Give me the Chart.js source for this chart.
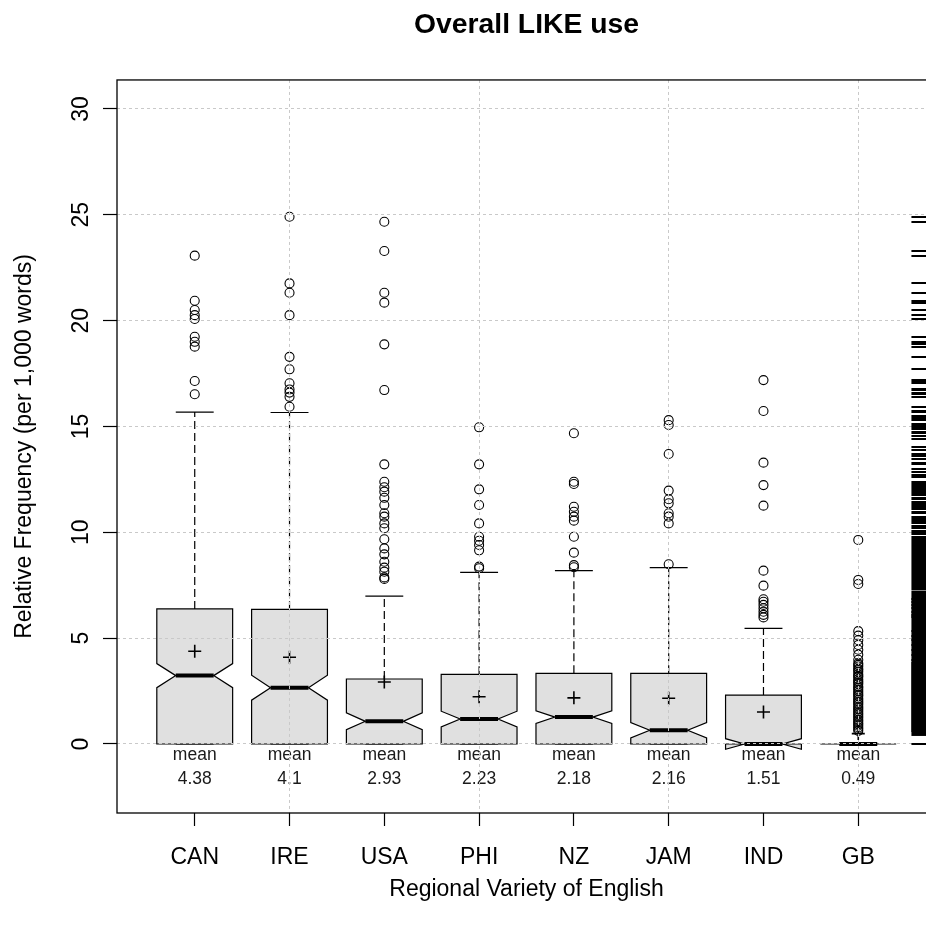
<!DOCTYPE html>
<html><head><meta charset="utf-8">
<script src="https://cdn.jsdelivr.net/npm/chart.js@4.4.1/dist/chart.umd.min.js"></script>
<style>
html,body{margin:0;padding:0;overflow:hidden;background:#fff;width:926px;height:929px}
#wrap{position:absolute;left:0;top:0;width:1053px;height:929px}
canvas{display:block}
</style></head><body>
<div id="wrap"><canvas id="c" width="1053" height="929" style="width:1053px;height:929px"></canvas></div>
<script>
// ---------- data ----------
const categories   = ['CAN', 'IRE', 'USA', 'PHI', 'NZ', 'JAM', 'IND', 'GB'];
const meanValues   = [4.38, 4.1, 2.93, 2.23, 2.18, 2.16, 1.51, 0.49];
const lowerWhisker = [0, 0, 0, 0, 0, 0, 0, 0];
const lowerHinge   = [0, 0, 0, 0, 0, 0, 0, 0];
const medians      = [3.23, 2.66, 1.07, 1.18, 1.27, 0.65, 0, 0];
const upperHinge   = [6.38, 6.36, 3.07, 3.29, 3.34, 3.34, 2.31, 0];
const upperWhisker = [15.68, 15.66, 6.99, 8.11, 8.19, 8.33, 5.46, 0];
const notchLower   = [2.66, 2.07, 0.68, 0.81, 0.97, 0.29, -0.25, 0];
const notchUpper   = [3.80, 3.25, 1.47, 1.55, 1.57, 1.01, 0.25, 0];

const outCAN = [23.07, 20.94, 20.5, 20.26, 20.08, 19.24, 19.0, 18.77, 17.15, 16.52];
const outIRE = [24.91, 21.76, 21.32, 20.26, 18.29, 17.7, 17.04, 16.75, 16.6, 16.4, 15.93];
const outUSA = [24.67, 23.29, 21.32, 20.85, 18.88, 16.72, 13.21, 12.39, 12.13, 11.92, 11.63, 11.29,
                10.9, 10.74, 10.42, 10.19, 9.67, 9.24, 8.96, 8.61, 8.33, 8.14, 7.87, 7.8];
const outPHI = [14.96, 13.21, 12.03, 11.29, 10.42, 9.79, 9.6, 9.4, 9.15, 8.38, 8.3];
const outNZ  = [14.68, 12.39, 12.28, 11.21, 10.97, 10.74, 10.55, 9.79, 9.04, 8.45, 8.35];
const outJAM = [15.3, 15.07, 13.7, 11.97, 11.56, 11.37, 10.9, 10.74, 10.42, 8.49];
const outIND = [17.19, 15.73, 13.29, 12.23, 11.26, 8.19, 7.48, 6.84, 6.72, 6.57, 6.41, 6.25, 6.1, 5.98];
const outGB  = [9.64, 7.75, 7.56, 5.33, 5.12, 4.9, 4.68, 4.45, 4.22, 3.98, 3.81, 3.74, 3.66, 3.55,
                3.49, 3.41, 3.3, 3.22, 3.17, 3.06, 2.98, 2.91, 2.83, 2.72, 2.66, 2.57, 2.49, 2.41,
                2.33, 2.27, 2.16, 2.09, 2.01, 1.94, 1.86, 1.77, 1.7, 1.63, 1.55, 1.46, 1.39, 1.31,
                1.24, 1.15, 1.08, 0.99, 0.93, 0.86, 0.78, 0.71, 0.62];
const outliers = [outCAN, outIRE, outUSA, outPHI, outNZ, outJAM, outIND, outGB];

// rug of all observations on the right-hand side (values not already among the outliers)
const rugExtraValues = [15.68, 15.5, 15.42, 15.35, 15.1, 14.9, 14.72, 14.55, 14.4, 14.05, 13.9,
                        13.6, 13.45, 13.0, 12.85, 12.7, 12.6, 12.2, 11.8, 11.75, 11.45, 11.1,
                        10.95, 10.65, 10.55, 10.3, 10.2, 10.05, 9.95, 9.9, 9.55, 9.45, 9.3, 9.2,
                        9.1, 8.95, 8.85, 8.75, 8.65, 8.55, 8.42, 8.3, 8.2, 8.1, 8.0, 7.95, 7.85,
                        7.7, 7.65, 7.55, 7.45, 7.38, 7.3, 0];
const rugSolidBands = [[0.38, 7.25]];

const yTickValues = [0, 5, 10, 15, 20, 25, 30];

// ---------- chart ----------
const FONT = '"Liberation Sans", Arial, Helvetica, sans-serif';

const boxPlugin = {
  id: 'notchedBoxes',
  beforeDatasetsDraw(chart) {
    const {ctx, scales: {x, y}} = chart;
    const unit = x.getPixelForValue(2) - x.getPixelForValue(1);
    const half = 0.4 * unit, notchHalf = 0.2 * unit, capHalf = 0.2 * unit;
    const Y = v => y.getPixelForValue(v);
    ctx.save();
    ctx.strokeStyle = '#000';
    categories.forEach((c, i) => {
      const cx = x.getPixelForValue(i + 1);
      ctx.lineWidth = 1.2;
      ctx.setLineDash([8, 4]);
      ctx.beginPath();
      ctx.moveTo(cx, Y(upperHinge[i])); ctx.lineTo(cx, Y(upperWhisker[i]));
      ctx.moveTo(cx, Y(lowerHinge[i])); ctx.lineTo(cx, Y(lowerWhisker[i]));
      ctx.stroke();
      ctx.setLineDash([]);
      ctx.beginPath();
      ctx.moveTo(cx - capHalf, Y(upperWhisker[i])); ctx.lineTo(cx + capHalf, Y(upperWhisker[i]));
      ctx.moveTo(cx - capHalf, Y(lowerWhisker[i])); ctx.lineTo(cx + capHalf, Y(lowerWhisker[i]));
      ctx.stroke();
      ctx.beginPath();
      ctx.moveTo(cx - half, Y(lowerHinge[i]));
      ctx.lineTo(cx - half, Y(notchLower[i]));
      ctx.lineTo(cx - notchHalf, Y(medians[i]));
      ctx.lineTo(cx - half, Y(notchUpper[i]));
      ctx.lineTo(cx - half, Y(upperHinge[i]));
      ctx.lineTo(cx + half, Y(upperHinge[i]));
      ctx.lineTo(cx + half, Y(notchUpper[i]));
      ctx.lineTo(cx + notchHalf, Y(medians[i]));
      ctx.lineTo(cx + half, Y(notchLower[i]));
      ctx.lineTo(cx + half, Y(lowerHinge[i]));
      ctx.closePath();
      ctx.fillStyle = '#e0e0e0';
      ctx.fill();
      ctx.lineWidth = 1.2;
      ctx.stroke();
      ctx.lineWidth = 4;
      ctx.beginPath();
      ctx.moveTo(cx - notchHalf, Y(medians[i])); ctx.lineTo(cx + notchHalf, Y(medians[i]));
      ctx.stroke();
      const yl = Y(chart.options.plugins.notchedBoxes.labelAt);
      ctx.fillStyle = '#1a1a1a';
      ctx.font = '17.5px ' + FONT;
      ctx.textAlign = 'center';
      ctx.textBaseline = 'middle';
      ctx.fillText('mean', cx, yl - 12);
      ctx.fillText(String(meanValues[i]), cx, yl + 12);
    });
    ctx.restore();
  },
  afterDraw(chart) {
    const {ctx, chartArea: a, scales: {y}} = chart;
    ctx.save();
    const len = 0.03 * (a.right - a.left);
    ctx.strokeStyle = '#000';
    ctx.lineWidth = 2;
    ctx.beginPath();
    const rugValues = outliers.flat().concat(rugExtraValues);
    rugValues.forEach(v => {
      const py = Math.round(y.getPixelForValue(v));
      ctx.moveTo(a.right - len, py); ctx.lineTo(a.right, py);
    });
    ctx.stroke();
    ctx.fillStyle = '#000';
    rugSolidBands.forEach(([lo, hi]) => {
      const top = y.getPixelForValue(hi), bot = y.getPixelForValue(lo);
      ctx.fillRect(a.right - len, top, len, bot - top);
    });
    ctx.lineWidth = 1.3;
    ctx.strokeRect(a.left, a.top, a.right - a.left, a.bottom - a.top);
    ctx.restore();
  }
};

const gridGray = '#c9c9c9';

new Chart(document.getElementById('c'), {
  type: 'scatter',
  data: {
    datasets: [
      {
        label: 'outliers',
        data: outliers.flatMap((list, i) => list.map(v => ({x: i + 1, y: v}))),
        pointStyle: 'circle',
        pointRadius: 4.5,
        pointBorderWidth: 1.1,
        borderColor: '#000',
        backgroundColor: 'rgba(0,0,0,0)',
        pointHoverRadius: 4.5
      },
      {
        label: 'mean',
        data: meanValues.map((v, i) => ({x: i + 1, y: v})),
        pointStyle: 'cross',
        pointRadius: 6.5,
        pointBorderWidth: 1.6,
        borderColor: '#000',
        backgroundColor: '#000'
      }
    ]
  },
  options: {
    responsive: false,
    animation: false,
    devicePixelRatio: 1,
    events: [],
    layout: {padding: 0},
    plugins: {
      legend: {display: false},
      tooltip: {enabled: false},
      title: {
        display: true,
        text: 'Overall LIKE use',
        color: '#000',
        font: {family: FONT, size: 28.3, weight: 'bold', lineHeight: 1.2},
        padding: {top: 8, bottom: 38}
      },
      notchedBoxes: {labelAt: -1.08}
    },
    scales: {
      x: {
        type: 'linear',
        position: 'bottom',
        min: 0.18,
        max: 8.82,
        afterBuildTicks: s => { s.ticks = categories.map((c, i) => ({value: i + 1})); },
        afterFit: s => { s.height = 116; },
        ticks: {
          callback: v => categories[v - 1],
          autoSkip: false, maxRotation: 0, minRotation: 0,
          color: '#000',
          font: {family: FONT, size: 23},
          padding: 18
        },
        grid: {
          z: 1,
          color: c => (c.tick && c.tick.value % 2 === 0) ? gridGray : 'rgba(0,0,0,0)',
          lineWidth: 1,
          tickColor: '#000', tickLength: 13, tickWidth: 1.2
        },
        border: {display: false, dash: [3, 3]},
        title: {
          display: true,
          text: 'Regional Variety of English',
          color: '#000',
          font: {family: FONT, size: 23},
          padding: {top: 0, bottom: 26}
        }
      },
      y: {
        type: 'linear',
        position: 'left',
        min: -3.26,
        max: 31.37,
        afterBuildTicks: s => { s.ticks = yTickValues.map(v => ({value: v})); },
        afterFit: s => { s.width = 117; },
        ticks: {
          color: '#000',
          font: {family: FONT, size: 23},
          minRotation: 90, maxRotation: 90,
          crossAlign: 'center',
          padding: 9
        },
        grid: {
          z: 1,
          color: gridGray,
          lineWidth: 1,
          tickColor: '#000', tickLength: 14, tickWidth: 1.2
        },
        border: {display: false, dash: [3, 3]},
        title: {
          display: true,
          text: 'Relative Frequency (per 1,000 words)',
          color: '#000',
          font: {family: FONT, size: 23},
          padding: {top: 10.5, bottom: 0}
        }
      },
      yRight: {
        type: 'linear',
        position: 'right',
        display: true,
        afterFit: s => { s.width = 117; },
        ticks: {display: false},
        grid: {display: false},
        border: {display: false}
      }
    }
  },
  plugins: [boxPlugin]
});
</script>
</body></html>
